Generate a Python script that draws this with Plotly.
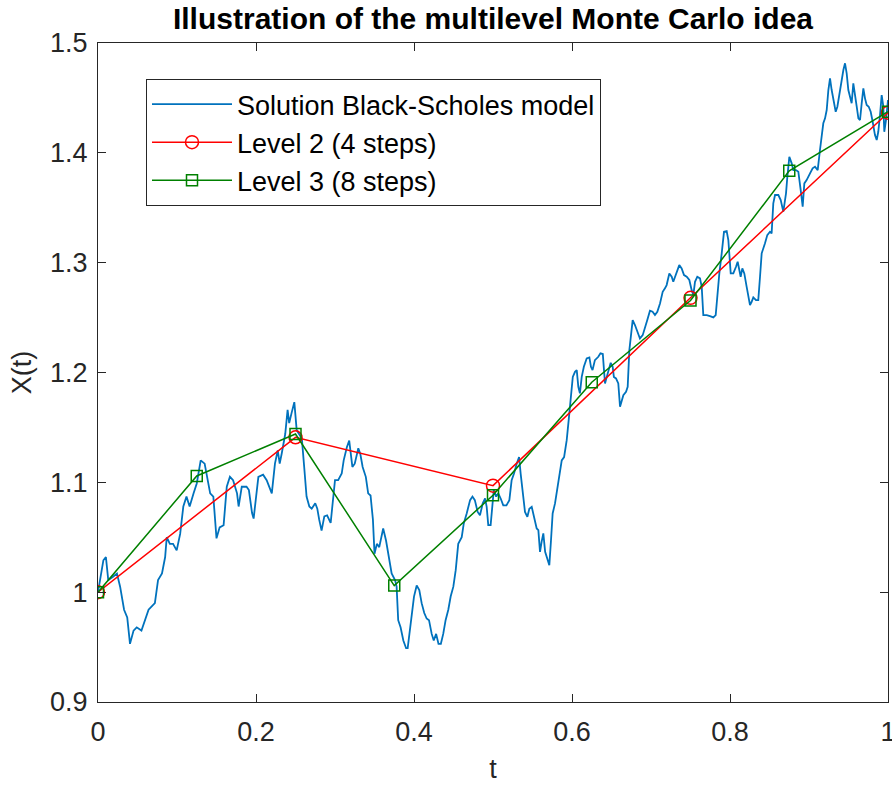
import plotly.graph_objects as go

# Fine path of the Black-Scholes solution
t_fine = [
    0.0, 0.0068, 0.010, 0.013, 0.019, 0.024, 0.028, 0.030, 0.033, 0.037,
    0.0405, 0.045, 0.049, 0.055, 0.059, 0.064, 0.072, 0.076, 0.081, 0.085,
    0.087, 0.091, 0.095, 0.0996, 0.104, 0.108, 0.112, 0.116, 0.121, 0.125,
    0.130, 0.135, 0.142, 0.146, 0.150, 0.154, 0.159, 0.163, 0.167, 0.171,
    0.176, 0.178, 0.182, 0.188, 0.191, 0.195, 0.197, 0.200, 0.203, 0.209,
    0.2135, 0.220, 0.224, 0.2275, 0.230, 0.2325, 0.237, 0.240, 0.242, 0.245,
    0.2485, 0.2515, 0.255, 0.258, 0.261, 0.264, 0.2675, 0.2705, 0.275, 0.2776,
    0.280, 0.283, 0.2865, 0.290, 0.2945, 0.298, 0.300, 0.304, 0.3085, 0.311,
    0.315, 0.318, 0.320, 0.322, 0.325, 0.3295, 0.332, 0.335, 0.339, 0.342,
    0.345, 0.348, 0.350, 0.353, 0.356, 0.359, 0.361, 0.3646, 0.3675, 0.3717,
    0.376, 0.378, 0.380, 0.383, 0.3865, 0.390, 0.392, 0.394, 0.397, 0.400,
    0.4034, 0.4067, 0.4097, 0.413, 0.416, 0.419, 0.4224, 0.425, 0.428, 0.431,
    0.434, 0.437, 0.440, 0.4434, 0.4464, 0.4498, 0.4528, 0.456, 0.4604, 0.463,
    0.4667, 0.471, 0.474, 0.477, 0.4806, 0.4835, 0.487, 0.490, 0.492, 0.494,
    0.497, 0.4996, 0.501, 0.504, 0.5067, 0.5097, 0.513, 0.517, 0.5207, 0.5236,
    0.5266, 0.530, 0.533, 0.535, 0.5376, 0.5405, 0.5435, 0.546, 0.549, 0.552,
    0.5553, 0.5574, 0.5595, 0.5616, 0.5637, 0.566, 0.5688, 0.5713, 0.5734, 0.5755,
    0.5785, 0.5814, 0.5848, 0.587, 0.590, 0.5933, 0.5958, 0.5983, 0.601, 0.6038,
    0.606, 0.608, 0.610, 0.6123, 0.615, 0.6186, 0.622, 0.624, 0.626, 0.629,
    0.6333, 0.636, 0.639, 0.6405, 0.6418, 0.644, 0.647, 0.649, 0.6515, 0.653,
    0.6557, 0.6586, 0.6608, 0.663, 0.665, 0.6684, 0.6705, 0.6726, 0.6747, 0.6768,
    0.6797, 0.6831, 0.686, 0.6895, 0.6924, 0.6953, 0.6987, 0.702, 0.705, 0.708,
    0.7114, 0.7148, 0.7177, 0.7198, 0.7232, 0.7262, 0.7282, 0.7304, 0.7333, 0.7358,
    0.7388, 0.7418, 0.7452, 0.7485, 0.7515, 0.7536, 0.7557, 0.7586, 0.762, 0.7642,
    0.7662, 0.7705, 0.7747, 0.7789, 0.7819, 0.784, 0.7865, 0.7895, 0.7924, 0.7958,
    0.7979, 0.8009, 0.8042, 0.8076, 0.8097, 0.8118, 0.8135, 0.8156, 0.8181, 0.8211,
    0.8232, 0.8253, 0.8274, 0.8295, 0.8329, 0.8358, 0.838, 0.8401, 0.8443, 0.8472,
    0.8506, 0.8527, 0.8548, 0.857, 0.8612, 0.8642, 0.8675, 0.8709, 0.8726, 0.8751,
    0.8781, 0.8801, 0.8835, 0.8865, 0.8895, 0.892, 0.8941, 0.897, 0.9013, 0.9046,
    0.9076, 0.911, 0.9139, 0.916, 0.9181, 0.9203, 0.9224, 0.9245, 0.9266, 0.9287,
    0.9308, 0.9338, 0.9359, 0.9384, 0.9414, 0.9435, 0.9456, 0.9477, 0.9498, 0.9519,
    0.954, 0.9561, 0.9582, 0.9604, 0.9625, 0.9646, 0.9667, 0.9688, 0.9709, 0.973,
    0.9756, 0.9781, 0.9806, 0.9835, 0.9857, 0.9877, 0.9899, 0.992, 0.9941, 0.9953,
    0.9975, 1.0,
]
x_fine = [
    1.000, 1.029, 1.032, 1.011, 1.014, 1.017, 1.005, 0.996, 0.984, 0.977,
    0.953, 0.965, 0.968, 0.965, 0.974, 0.984, 0.990, 1.011, 1.017, 1.032,
    1.050, 1.044, 1.044, 1.038, 1.053, 1.078, 1.087, 1.078, 1.090, 1.099,
    1.120, 1.117, 1.090, 1.087, 1.049, 1.059, 1.061, 1.096, 1.105, 1.102,
    1.090, 1.078, 1.096, 1.096, 1.093, 1.072, 1.067, 1.084, 1.105, 1.107,
    1.102, 1.090, 1.117, 1.129, 1.117, 1.126, 1.144, 1.166, 1.154, 1.163,
    1.173, 1.1475, 1.143, 1.140, 1.114, 1.087, 1.078, 1.076, 1.081, 1.076,
    1.066, 1.056, 1.069, 1.070, 1.063, 1.087, 1.102, 1.102, 1.108, 1.120,
    1.132, 1.138, 1.126, 1.114, 1.117, 1.131, 1.126, 1.114, 1.105, 1.090,
    1.088, 1.066, 1.035, 1.044, 1.041, 1.053, 1.058, 1.047, 1.035, 1.017,
    1.011, 1.005, 0.9745, 0.968, 0.956, 0.949, 0.949, 0.962, 0.977, 0.996,
    1.006, 1.002, 0.990, 0.981, 0.976, 0.9745, 0.962, 0.956, 0.962, 0.953,
    0.953, 0.962, 0.9745, 0.984, 0.996, 1.005, 1.020, 1.044, 1.050, 1.0626,
    1.0717, 1.0838, 1.087, 1.0838, 1.073, 1.070, 1.0808, 1.0853, 1.0777, 1.061,
    1.061, 1.0838, 1.093, 1.087, 1.090, 1.0853, 1.079, 1.079, 1.0838, 1.102,
    1.108, 1.117, 1.123, 1.108, 1.090, 1.073, 1.0686, 1.076, 1.0777, 1.067,
    1.058, 1.0565, 1.0367, 1.046, 1.0535, 1.0367, 1.029, 1.0246, 1.047, 1.0717,
    1.0808, 1.0944, 1.111, 1.120, 1.123, 1.1384, 1.1567, 1.178, 1.196, 1.2006,
    1.2022, 1.187, 1.181, 1.196, 1.2052, 1.2128, 1.2137, 1.2052, 1.2022, 1.2113,
    1.2143, 1.2174, 1.2168, 1.2022, 1.190, 1.196, 1.2052, 1.2088, 1.2052, 1.196,
    1.1946, 1.190, 1.1688, 1.175, 1.1794, 1.1824, 1.187, 1.2204, 1.2356, 1.2477,
    1.2432, 1.2356, 1.231, 1.234, 1.2402, 1.2477, 1.2562, 1.2553, 1.2523, 1.2553,
    1.2629, 1.2735, 1.2766, 1.2796, 1.2902, 1.2872, 1.2826, 1.2872, 1.2933, 1.2978,
    1.2948, 1.2887, 1.2872, 1.2842, 1.275, 1.2705, 1.2826, 1.2872, 1.2857, 1.278,
    1.2523, 1.2523, 1.2514, 1.2502, 1.2523, 1.272, 1.2902, 1.3085, 1.3281, 1.3288,
    1.3206, 1.2902, 1.2902, 1.2963, 1.3008, 1.2933, 1.2872, 1.2948, 1.2902, 1.278,
    1.2689, 1.2614, 1.2644, 1.2684, 1.2659, 1.2659, 1.2872, 1.3085, 1.3176, 1.3251,
    1.3281, 1.3267, 1.354, 1.3616, 1.3616, 1.357, 1.3464, 1.3631, 1.3782, 1.3964,
    1.3904, 1.3843, 1.3843, 1.3828, 1.3661, 1.3509, 1.3722, 1.3752, 1.3813, 1.3859,
    1.3873, 1.3843, 1.4026, 1.4147, 1.4269, 1.4314, 1.439, 1.4572, 1.4678, 1.4572,
    1.4481, 1.4374, 1.442, 1.4542, 1.4693, 1.4754, 1.4815, 1.4724, 1.4572, 1.4496,
    1.4451, 1.4633, 1.4542, 1.442, 1.4314, 1.4299, 1.4451, 1.4587, 1.4496, 1.4435,
    1.442, 1.4374, 1.4283, 1.4162, 1.4117, 1.4192, 1.4344, 1.4526, 1.442, 1.4192,
    1.4299, 1.448,
]

# Coarse approximations
t_level2 = [0.0, 0.25, 0.5, 0.75, 1.0]
x_level2 = [1.000, 1.1410, 1.0970, 1.2680, 1.4365]

t_level3 = [0.0, 0.125, 0.25, 0.375, 0.5, 0.625, 0.75, 0.875, 1.0]
x_level3 = [1.000, 1.1058, 1.1440, 1.0060, 1.0883, 1.1912, 1.2655, 1.3836, 1.4375]

y_ticks = [0.9, 1.0, 1.1, 1.2, 1.3, 1.4, 1.5]
y_tick_text = ["0.9", "1", "1.1", "1.2", "1.3", "1.4", "1.5"]
x_ticks = [0, 0.2, 0.4, 0.6, 0.8, 1.0]
x_tick_text = ["0", "0.2", "0.4", "0.6", "0.8", "1"]

FONT = "Liberation Sans, Arial, Helvetica, sans-serif"
AXIS_COLOR = "#262626"

fig = go.Figure()
fig.add_trace(go.Scatter(
    x=t_fine, y=x_fine, mode="lines", name="Solution Black-Scholes model",
    line=dict(color="#0072BD", width=1.8),
))
fig.add_trace(go.Scatter(
    x=t_level2, y=x_level2, mode="lines+markers", name="Level 2 (4 steps)",
    line=dict(color="#FF0000", width=1.5),
    marker=dict(symbol="circle-open", size=13, color="#FF0000", line=dict(width=1.5)),
))
fig.add_trace(go.Scatter(
    x=t_level3, y=x_level3, mode="lines+markers", name="Level 3 (8 steps)",
    line=dict(color="#008000", width=1.5),
    marker=dict(symbol="square-open", size=11, color="#008000", line=dict(width=1.5)),
))

axis_common = dict(
    showgrid=False, zeroline=False, showline=True, linecolor=AXIS_COLOR, linewidth=1,
    mirror="ticks", ticks="inside", ticklen=8, tickwidth=1, tickcolor=AXIS_COLOR,
    tickfont=dict(family=FONT, size=27, color=AXIS_COLOR),
    ticklabeloverflow="allow", automargin=False,
)

fig.update_layout(
    width=892, height=789,
    margin=dict(l=98, r=4, t=43, b=87),
    paper_bgcolor="white", plot_bgcolor="white",
    font=dict(family=FONT, color=AXIS_COLOR),
    title=dict(
        text="<b>Illustration of the multilevel Monte Carlo idea</b>",
        font=dict(family=FONT, size=30, color="black"),
        x=0.5, xref="paper", xanchor="center",
        y=1 - 18 / 789, yref="container", yanchor="middle",
    ),
    xaxis=dict(
        range=[0, 1], tickvals=x_ticks, ticktext=x_tick_text,
        ticklabelstandoff=6,
        title=dict(text="t", font=dict(family=FONT, size=27, color=AXIS_COLOR), standoff=12),
        **axis_common,
    ),
    yaxis=dict(
        range=[0.9, 1.5], tickvals=y_ticks, ticktext=y_tick_text,
        ticklabelstandoff=4,
        title=dict(text="X(t)", font=dict(family=FONT, size=27, color=AXIS_COLOR), standoff=10),
        **axis_common,
    ),
    legend=dict(
        x=(146 - 98) / 790, y=1 - (79 - 43) / 659, xanchor="left", yanchor="top",
        bgcolor="white", bordercolor=AXIS_COLOR, borderwidth=1,
        font=dict(family=FONT, size=27, color="black"),
        itemwidth=80, tracegroupgap=0,
    ),
    showlegend=True,
)

fig.write_html("out.html")
